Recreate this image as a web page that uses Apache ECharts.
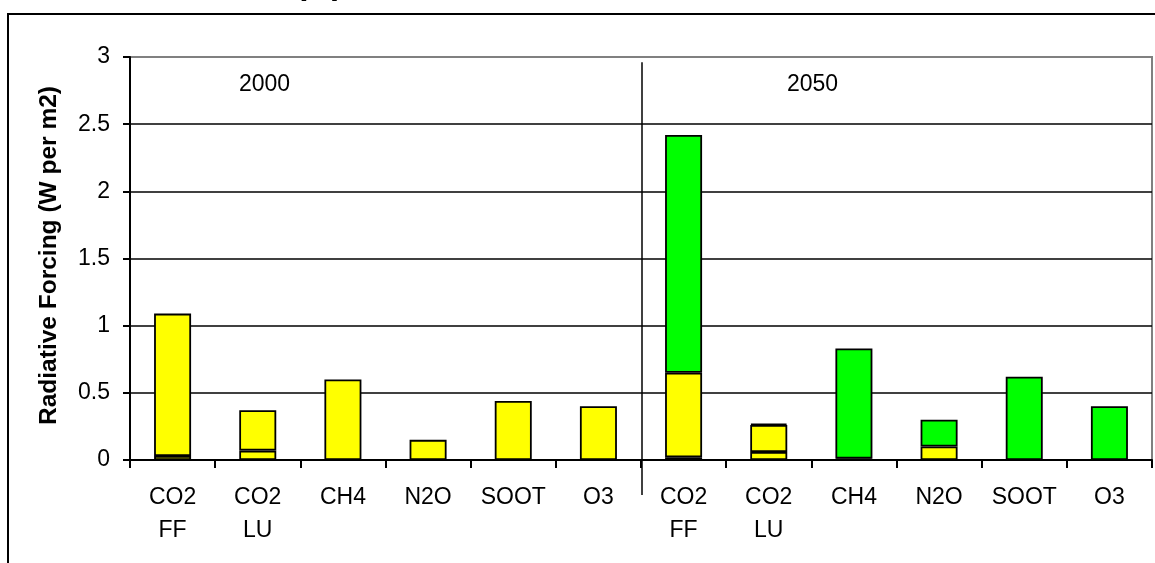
<!DOCTYPE html>
<html>
<head>
<meta charset="utf-8">
<script src="https://cdn.jsdelivr.net/npm/echarts@6/dist/echarts.min.js"></script>
<style>
  html, body { margin: 0; padding: 0; background: #fff; }
  #chart { width: 1155px; height: 563px; }
</style>
</head>
<body>
<div id="chart"></div>
<script>
// categories, 2000 then 2050
let categories = [
  "CO2\nFF", "CO2\nLU", "CH4", "N2O", "SOOT", "O3",
  "CO2\nFF", "CO2\nLU", "CH4", "N2O", "SOOT", "O3",
];
// bottom yellow part
let baseYellow = [0.03, 0.07, 0.60, 0.15, 0.44, 0.40, 0.02, 0.06, 0.01, 0.10, null, null];
// second yellow part
let upperYellow = [1.06, 0.30, null, null, null, null, 0.63, 0.20, null, null, null, null];
// green part (2050)
let green = [null, null, null, null, null, null, 1.77, 0.01, 0.82, 0.20, 0.62, 0.40];
let yTicks = { min: 0, max: 3, interval: 0.5 };
let periodLabels = ["2000", "2050"];

let font = "Liberation Sans, Arial, sans-serif";

let barStyle = (c) => ({
  color: c,
  borderColor: "#000",
  borderWidth: 1.8,
});

let myChart = echarts.init(document.getElementById("chart"));

let option = {
  animation: false,
  backgroundColor: "#fff",
  grid: {
    left: 130,
    right: 3,
    top: 57,
    bottom: 103,
    show: true,
    borderColor: "#808080",
    borderWidth: 2,
  },
  xAxis: {
    type: "category",
    data: categories,
    axisLine: { lineStyle: { color: "#000", width: 2 } },
    axisTick: { show: true, interval: 0, length: 8, lineStyle: { color: "#000", width: 2 } },
    axisLabel: {
      interval: 0,
      color: "#000",
      fontFamily: font,
      fontSize: 23,
      lineHeight: 33,
      margin: 21,
    },
  },
  yAxis: {
    type: "value",
    min: yTicks.min,
    max: yTicks.max,
    interval: yTicks.interval,
    name: "Radiative Forcing (W per m2)",
    nameLocation: "middle",
    nameGap: 68,
    nameTextStyle: {
      color: "#000",
      fontFamily: font,
      fontSize: 24.5,
      fontWeight: "bold",
      padding: [0, 0, 0, 6],
    },
    axisLine: { show: true, lineStyle: { color: "#000", width: 2 } },
    axisTick: { show: true, length: 7, lineStyle: { color: "#000", width: 2 } },
    axisLabel: {
      color: "#000",
      fontFamily: font,
      fontSize: 23,
      margin: 20,
    },
    splitLine: {
      show: true,
      lineStyle: {
        color: ["#000", "#000", "#000", "#000", "#000", "#000", "#808080"],
        width: 1.6,
      },
    },
  },
  series: [
    { type: "bar", stack: "rf", data: baseYellow, barWidth: 37, itemStyle: barStyle("#ffff00") },
    { type: "bar", stack: "rf", data: upperYellow, barWidth: 37, itemStyle: barStyle("#ffff00") },
    { type: "bar", stack: "rf", data: green, barWidth: 37, itemStyle: barStyle("#00ff00") },
  ],
};
myChart.setOption(option);

// divider between the two periods and the period labels
let xa = myChart.convertToPixel({ xAxisIndex: 0 }, 5);
let xb = myChart.convertToPixel({ xAxisIndex: 0 }, 6);
let xMid = (xa + xb) / 2;
let yTop = myChart.convertToPixel({ yAxisIndex: 0 }, 2.96);
let y0 = myChart.convertToPixel({ yAxisIndex: 0 }, 0);

myChart.setOption({
  graphic: [
    {
      type: "rect",
      shape: { x: 8, y: 14, width: 1200, height: 600 },
      style: { fill: null, stroke: "#000", lineWidth: 2 },
      z: 0,
    },
    {
      type: "line",
      shape: { x1: xMid + 1, y1: yTop, x2: xMid + 1, y2: y0 + 35 },
      style: { stroke: "#000", lineWidth: 1.5 },
      z: 10,
    },
    {
      type: "text",
      x: 239,
      y: 73,
      style: { text: periodLabels[0], font: "23px " + font, fill: "#000" },
    },
    {
      type: "text",
      x: 787,
      y: 73,
      style: { text: periodLabels[1], font: "23px " + font, fill: "#000" },
    },
    {
      type: "text",
      x: 300,
      y: 1,
      style: { text: "[15]", font: "23px " + font, fill: "#000", verticalAlign: "bottom" },
    },
  ],
});

window.addEventListener("resize", () => {
  myChart.resize();
});
</script>
</body>
</html>
